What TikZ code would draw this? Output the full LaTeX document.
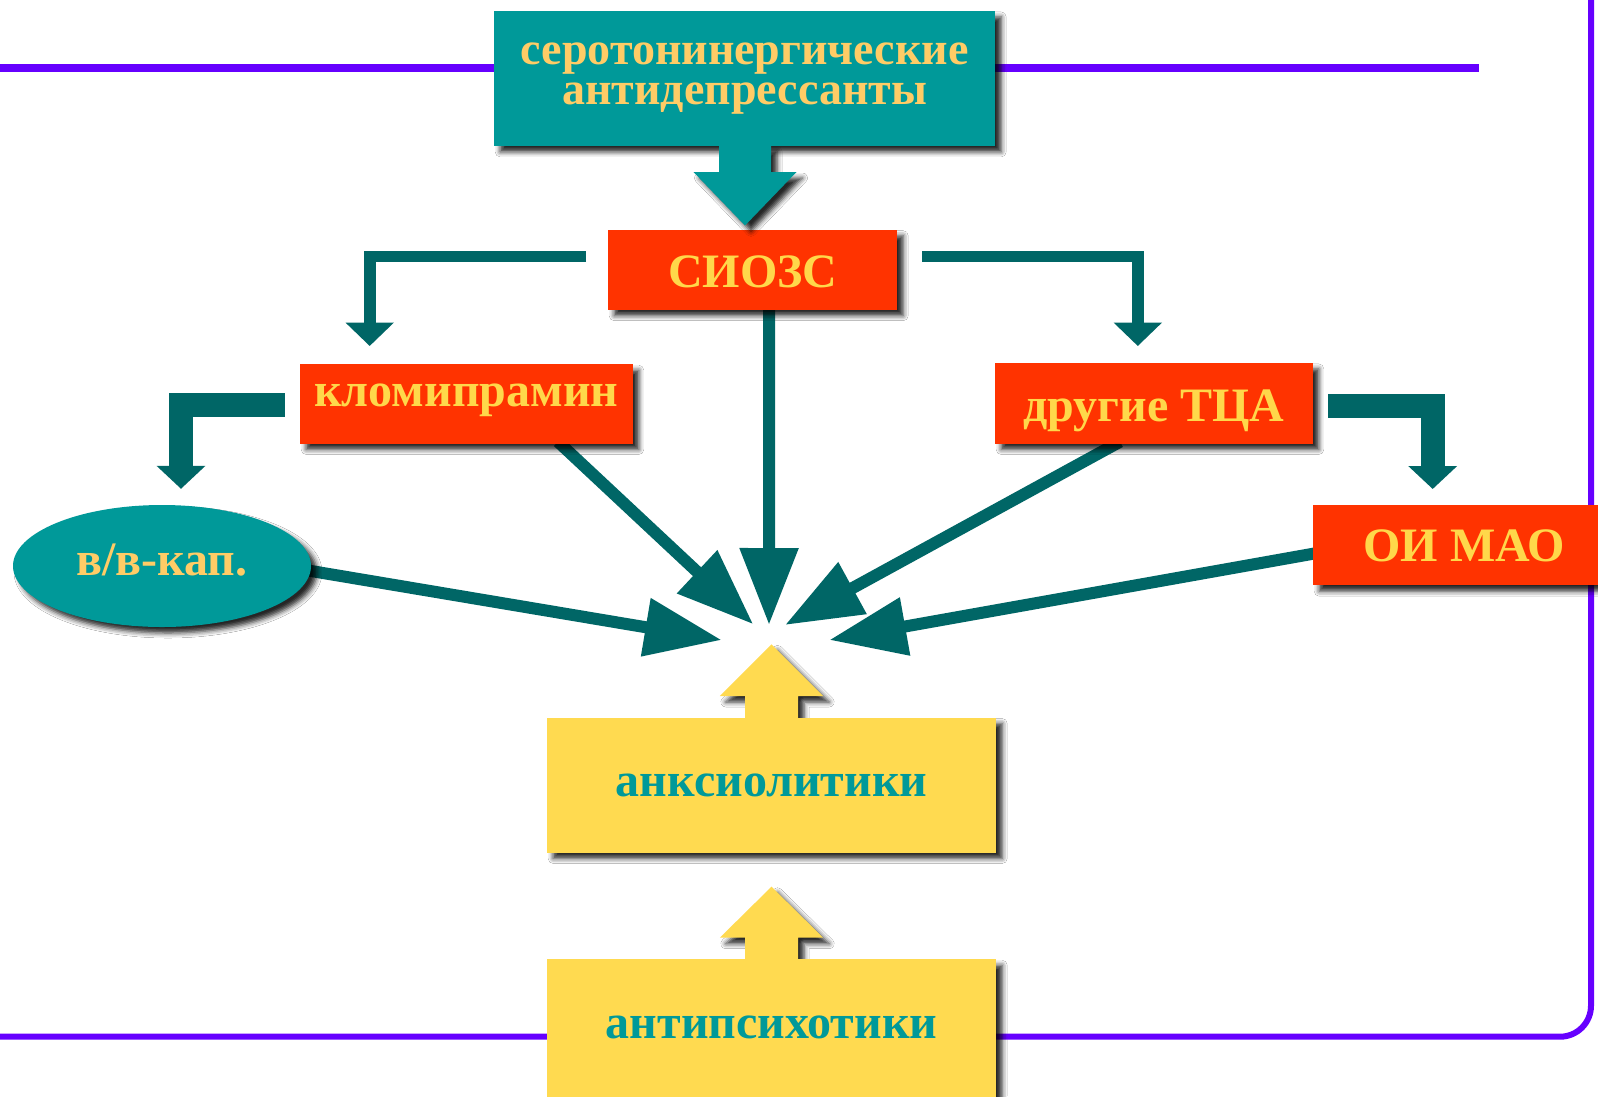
\documentclass[tikz,border=0pt]{standalone}
\usepackage{fontspec}
\setmainfont{Liberation Serif}
\usetikzlibrary{arrows.meta,calc,shadows.blur,shapes.geometric}
\definecolor{tealbox}{HTML}{009999}
\definecolor{dteal}{HTML}{006666}
\definecolor{redbox}{HTML}{FF3300}
\definecolor{ybox}{HTML}{FFDA50}
\definecolor{txtor}{HTML}{FFCC66}
\definecolor{txty}{HTML}{FFD84A}
\definecolor{framec}{HTML}{6600FF}
\pgfdeclarelayer{bg}
\pgfdeclarelayer{mid}
\pgfsetlayers{bg,mid,main}
\begin{document}
\begin{tikzpicture}[x=1pt,y=-1pt,
  shad/.style={blur shadow={shadow xshift=6pt,shadow yshift=-6pt,shadow blur radius=5pt,shadow opacity=85}},
  box/.style={rectangle,inner sep=0pt,anchor=north west,shad,font=\fontsize{48}{37}\selectfont\bfseries},
  redb/.style={box,fill=redbox,text=txty},
  yelb/.style={box,fill=ybox,text=tealbox},
  conn/.style={draw=dteal,line width=12pt,-{Triangle[length=77pt,width=56pt]}},
  elbow/.style={draw=dteal,line width=11.6pt,-{Triangle[length=23.4pt,width=47pt]}},
  thickelbow/.style={draw=dteal,line width=24pt,-{Triangle[length=23pt,width=47.6pt]}},
  blockarrow/.style={shad},
  framel/.style={draw=framec}
]
\useasboundingbox (0,0) rectangle (1598,1096);

% nodes
\node[box,fill=tealbox,text=txtor,align=center,minimum width=501pt,minimum height=135pt,
  font=\fontsize{46}{40}\selectfont\bfseries] (top) at (494,10.7)
  {серотонинергические\\антидепрессанты};
\node[redb,minimum width=289pt,minimum height=80pt,text height=40.8pt,text depth=5pt] (sioz) at (608,229.5) {СИОЗС};
\node[redb,minimum width=332.6pt,minimum height=79.3pt,text height=21pt,text depth=15pt] (klom) at (300,364) {кломипрамин};
\node[redb,minimum width=317.6pt,minimum height=80.6pt,text height=42.4pt,text depth=5pt] (tca) at (995,362.7) {другие ТЦА};
\node[redb,minimum width=302pt,minimum height=80pt,text height=38.4pt,text depth=5pt] (maoi) at (1313,505) {ОИ МАО};
\node[ellipse,inner sep=0pt,shad,fill=tealbox,text=txtor,font=\fontsize{48}{37}\selectfont\bfseries,
  minimum width=298pt,minimum height=122pt,text height=28pt,text depth=10pt] (ell) at (162,566) {в/в-кап.};
\node[yelb,minimum width=449pt,minimum height=135pt,text height=33.8pt,text depth=10pt] (anks) at (547,717.3) {анксиолитики};
\node[yelb,minimum width=449pt,minimum height=141pt,text height=27pt,text depth=10pt] (apsy) at (547,959) {антипсихотики};

% top block arrow
\fill[tealbox,blockarrow] (719,145) -- (771,145) -- (771,172) -- (796.5,172) -- (745,225.5) -- (693.5,172) -- (719,172) -- cycle;

% yellow block arrows
\begin{pgfonlayer}{mid}
\fill[ybox,blockarrow] (745,720) -- (798,720) -- (798,696) -- (823.2,696) -- (771.5,644.3) -- (719.8,696) -- (745,696) -- cycle;
\fill[ybox,blockarrow] (745,962) -- (798,962) -- (798,937.7) -- (823.2,937.7) -- (771.5,886.7) -- (719.8,937.7) -- (745,937.7) -- cycle;
\end{pgfonlayer}

% connectors and frame
\begin{pgfonlayer}{bg}
\fill[white] (0,0) rectangle (1598,1096);
\draw[framel,line width=8pt] (0,68) -- (1479,68);
\draw[framel,line width=6pt,rounded corners=31pt] (1591,-10) -- (1591,1036.7) -- (-10,1036.7);

\coordinate (tv) at (769,625);
\coordinate (tk) at (753.3,624.3);
\coordinate (te) at (721.7,640);
\coordinate (tt) at (785,625);
\coordinate (tm) at (829.3,640);

\draw[conn] ($(sioz.south)+(16.5,-2)$) -- (tv);
\draw[conn] ($(klom.south west)+(258,-2)$) -- (tk);
\draw[conn] ($(ell.east)+(-6,4)$) -- (te);
\draw[conn] ($(tca.south west)+(125,-2)$) -- (tt);
\draw[conn] ($(maoi.west)+(3,8)$) -- (tm);

\draw[elbow] ($(sioz.north west)+(-22,27)$) -| ($(klom.north west)+(69.7,-18)$);
\draw[elbow] ($(sioz.north east)+(25,27)$) -| ($(tca.north west)+(142.8,-16.7)$);
\draw[thickelbow] ($(klom.west)+(-15.3,1.6)$) -| ($(ell.north)+(19,-16)$);
\draw[thickelbow] ($(tca.east)+(15.4,2.3)$) -| ($(maoi.north west)+(119.7,-16)$);
\end{pgfonlayer}
\end{tikzpicture}
\end{document}
